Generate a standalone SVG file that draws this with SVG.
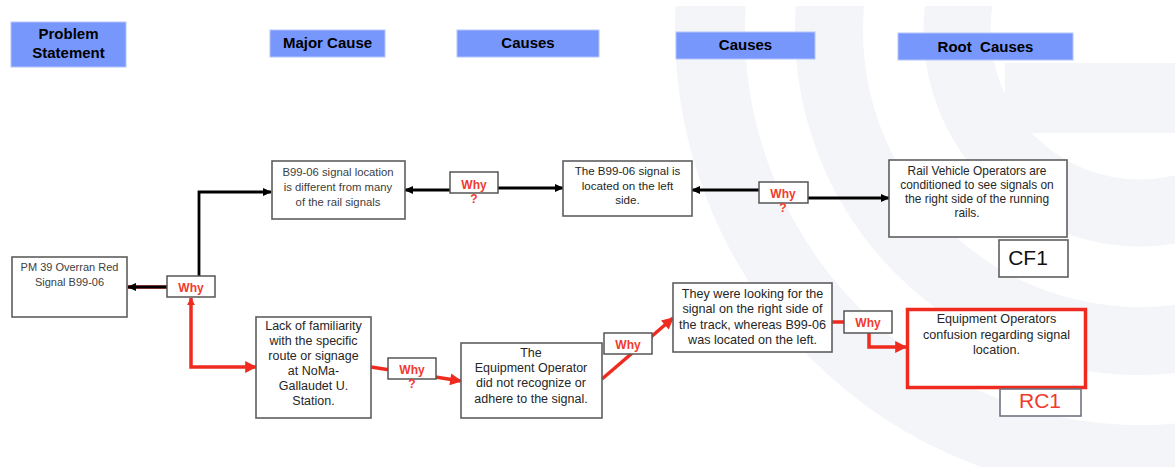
<svg xmlns="http://www.w3.org/2000/svg" width="1175" height="467" viewBox="0 0 1175 467">
<style>
.hdr{fill:#7797fd;stroke:#b4c4fa;stroke-width:1}
.ht{font-family:"Liberation Sans",Arial,sans-serif;font-weight:bold;font-size:15px;fill:#000;text-anchor:middle}
.box{fill:#fff;stroke:#5e5e5e;stroke-width:1.6}
.t{font-family:"Liberation Sans",Arial,sans-serif;fill:#262626;text-anchor:middle}
.why{fill:#fff;stroke:#555;stroke-width:1.5}
.wt{font-family:"Liberation Sans",Arial,sans-serif;font-weight:bold;font-size:12px;fill:#f23a2f;text-anchor:middle}
.bl{fill:none;stroke:#000;stroke-width:2.8}
.rl{fill:none;stroke:#ef2b20;stroke-width:3.5}
.wm{fill:none;stroke:#f4f5f8}
</style>
<defs>
<clipPath id="clipwm"><rect x="0" y="6" width="1175" height="461"/></clipPath>
<marker id="ab" viewBox="0 0 10 10" refX="9" refY="5" markerWidth="9" markerHeight="9" markerUnits="userSpaceOnUse" orient="auto"><path d="M0,0.5 L10,5 L0,9.5 z" fill="#000"/></marker>
<marker id="ar" viewBox="0 0 10 10" refX="9" refY="5" markerWidth="13" markerHeight="12" markerUnits="userSpaceOnUse" orient="auto"><path d="M0,0 L10,5 L0,10 z" fill="#ef2b20"/></marker>
<marker id="ars" viewBox="0 0 10 10" refX="9" refY="5" markerWidth="8" markerHeight="8" markerUnits="userSpaceOnUse" orient="auto-start-reverse"><path d="M0,0 L10,5 L0,10 z" fill="#ef2b20"/></marker>
</defs>
<rect width="1175" height="467" fill="#fff"/>
<g id="watermark" clip-path="url(#clipwm)">
<circle class="wm" cx="1140" cy="30" r="430" stroke-width="70"/>
<circle class="wm" cx="1140" cy="30" r="311" stroke-width="68"/>
<circle class="wm" cx="1140" cy="30" r="183" stroke-width="67"/>
<rect x="1005" y="63" width="170" height="70" fill="#f4f5f8"/>
</g>
<g id="headers">
<g id="h-problem"><rect class="hdr" x="11" y="22" width="115" height="45"/><text class="ht" x="68.5" y="39">Problem</text><text class="ht" x="68.5" y="58">Statement</text></g>
<g id="h-major"><rect class="hdr" x="270" y="30" width="115" height="27"/><text class="ht" x="327.5" y="48">Major Cause</text></g>
<g id="h-causes1"><rect class="hdr" x="457" y="30" width="142" height="27"/><text class="ht" x="528" y="48">Causes</text></g>
<g id="h-causes2"><rect class="hdr" x="676" y="32" width="139" height="27"/><text class="ht" x="745.5" y="50">Causes</text></g>
<g id="h-root"><rect class="hdr" x="898" y="33" width="175" height="27"/><text class="ht" x="985.5" y="52" xml:space="preserve">Root  Causes</text></g>
</g>
<g id="connectors">
<path class="rl" d="M167,287 H128" stroke-width="3"/>
<path class="bl" d="M167,287 H128" marker-end="url(#ab)"/>
<path class="bl" d="M199,276 V192 H271" marker-end="url(#ab)"/>
<path class="bl" d="M450,190 H405" marker-end="url(#ab)"/>
<path class="bl" d="M498,188 H563" marker-end="url(#ab)"/>
<path class="bl" d="M759,190 H692" marker-end="url(#ab)"/>
<path class="bl" d="M808,198 H889" marker-end="url(#ab)"/>
<path class="rl" d="M191,298 V367 H256" marker-start="url(#ars)" marker-end="url(#ar)"/>
<path class="rl" d="M371,367 L461,381" marker-end="url(#ar)"/>
<path class="rl" d="M602,379 L673,318" marker-end="url(#ar)"/>
<path class="rl" d="M832,322 H869 V347 H906" marker-end="url(#ar)"/>
</g>
<g id="n-pm39"><rect class="box" x="12" y="257" width="115" height="60"/><text class="t" font-size="11" style="fill:#404040" x="69.5" y="271">PM 39 Overran Red</text><text class="t" font-size="11" style="fill:#404040" x="69.5" y="286">Signal B99-06</text></g>
<g id="n-b9906loc"><rect class="box" x="272" y="161" width="133" height="58"/><text class="t" font-size="11.3" style="fill:#404040" x="338" y="176">B99-06 signal location</text><text class="t" font-size="11.3" style="fill:#404040" x="338" y="191">is different from many</text><text class="t" font-size="11.3" style="fill:#404040" x="338" y="206">of the rail signals</text></g>
<g id="n-leftside"><rect class="box" x="563" y="161" width="129" height="55"/><text class="t" font-size="11.6" x="627.5" y="175">The B99-06 signal is</text><text class="t" font-size="11.6" x="627.5" y="189.5">located on the left</text><text class="t" font-size="11.6" x="627.5" y="204">side.</text></g>
<g id="n-railveh"><rect class="box" x="889" y="160" width="178" height="77"/><text class="t" font-size="11.9" x="977" y="175">Rail Vehicle Operators are</text><text class="t" font-size="11.9" x="977" y="189">conditioned to see signals on</text><text class="t" font-size="11.9" x="977" y="203">the right side of the running</text><text class="t" font-size="11.9" x="967" y="217">rails.</text></g>
<g id="n-cf1"><rect class="box" x="999" y="240" width="69" height="37"/><text class="t" font-size="21" style="fill:#111" x="1028" y="265">CF1</text></g>
<g id="n-lack"><rect class="box" x="256" y="317" width="115" height="101"/><text class="t" font-size="12.5" x="313.5" y="330">Lack of familiarity</text><text class="t" font-size="12.5" x="313.5" y="345">with the specific</text><text class="t" font-size="12.5" x="313.5" y="360">route or signage</text><text class="t" font-size="12.5" x="313.5" y="375">at NoMa-</text><text class="t" font-size="12.5" x="313.5" y="390">Gallaudet U.</text><text class="t" font-size="12.5" x="313.5" y="405">Station.</text></g>
<g id="n-equipop"><rect class="box" x="461" y="343" width="141" height="75"/><text class="t" font-size="12.5" x="531" y="357">The</text><text class="t" font-size="12.5" x="531" y="372">Equipment Operator</text><text class="t" font-size="12.5" x="531" y="387">did not recognize or</text><text class="t" font-size="12.5" x="531" y="402.5">adhere to the signal.</text></g>
<g id="n-looking"><rect class="box" x="673" y="283" width="159" height="69"/><text class="t" font-size="12.6" x="752.5" y="298">They were looking for the</text><text class="t" font-size="12.6" x="752.5" y="313">signal on the right side of</text><text class="t" font-size="12.6" x="752.5" y="328.5">the track, whereas B99-06</text><text class="t" font-size="12.6" x="752.5" y="344">was located on the left.</text></g>
<g id="n-confusion"><rect x="907.5" y="309.5" width="178" height="78" fill="#fff" stroke="#ef2b20" stroke-width="3.5"/><text class="t" font-size="12.6" x="996.5" y="323">Equipment Operators</text><text class="t" font-size="12.6" x="996.5" y="338.5">confusion regarding signal</text><text class="t" font-size="12.6" x="996.5" y="354">location.</text></g>
<g id="n-rc1"><rect x="1000" y="389" width="81" height="27" fill="#fff" stroke="#6d7380" stroke-width="1.6"/><text class="t" font-size="21" style="fill:#ef3a2e" x="1040" y="408">RC1</text></g>
<g id="why1"><rect class="why" x="167" y="276" width="48" height="21"/><text class="wt" x="191" y="292">Why</text></g>
<g id="why2"><rect class="why" x="450" y="172" width="48" height="21"/><text class="wt" x="474" y="188.5">Why</text><text class="wt" x="474" y="203">?</text></g>
<g id="why3"><rect class="why" x="759" y="182" width="49" height="21"/><text class="wt" x="783" y="198">Why</text><text class="wt" x="783" y="212">?</text></g>
<g id="why4"><rect class="why" x="388" y="358" width="48" height="21"/><text class="wt" x="412" y="374">Why</text><text class="wt" x="412" y="388">?</text></g>
<g id="why5"><rect class="why" x="604" y="333" width="48" height="21"/><text class="wt" x="628" y="349">Why</text></g>
<g id="why6"><rect class="why" x="844" y="311" width="48" height="22"/><text class="wt" x="868" y="327">Why</text></g>
</svg>
